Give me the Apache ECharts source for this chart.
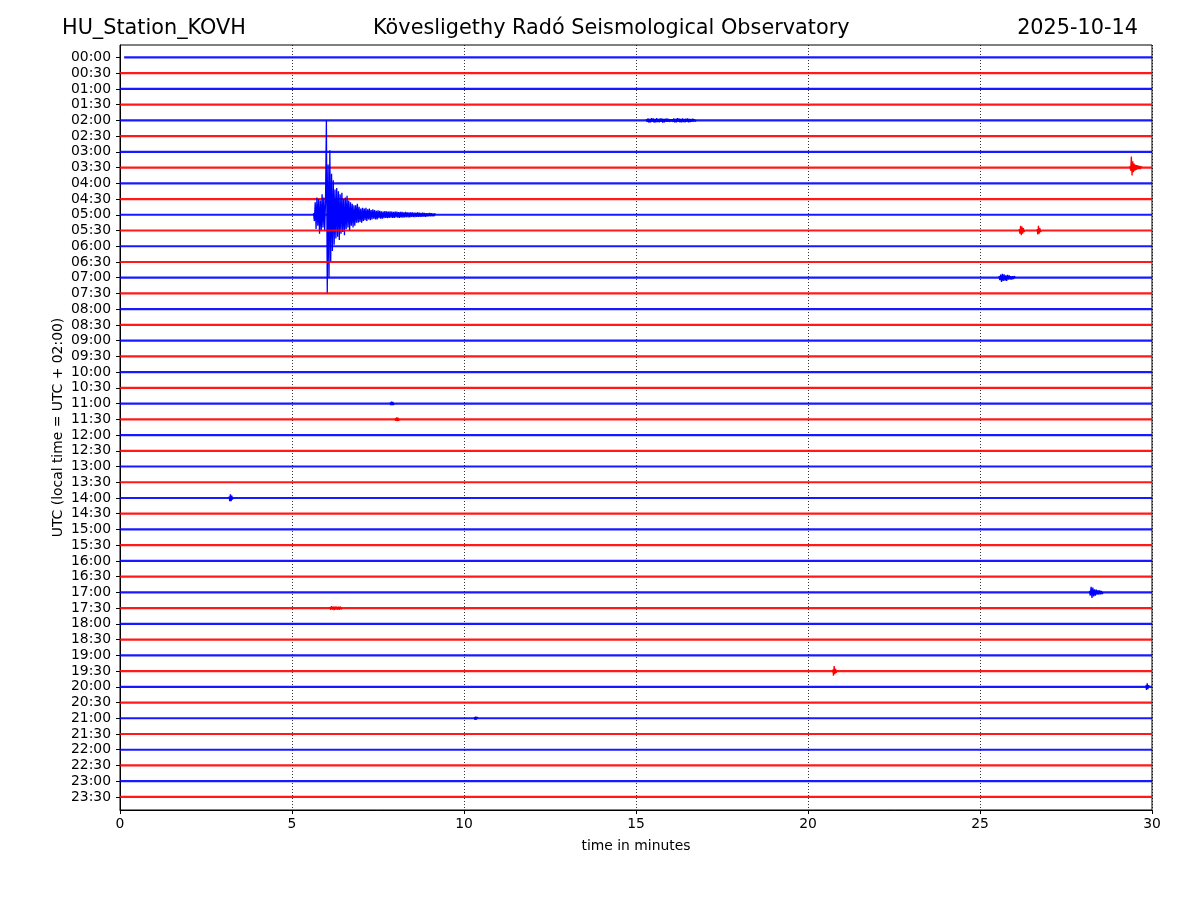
<!DOCTYPE html>
<html>
<head>
<meta charset="utf-8">
<script src="https://cdn.jsdelivr.net/npm/echarts@6/dist/echarts.min.js"></script>
<style>html,body{margin:0;padding:0;background:#fff}#c{width:1200px;height:900px}</style>
</head>
<body>
<div id="c"></div>
<script>
// ---- data ----
const timeLabels = ['00:00','00:30','01:00','01:30','02:00','02:30','03:00','03:30','04:00','04:30',
  '05:00','05:30','06:00','06:30','07:00','07:30','08:00','08:30','09:00','09:30',
  '10:00','10:30','11:00','11:30','12:00','12:30','13:00','13:30','14:00','14:30',
  '15:00','15:30','16:00','16:30','17:00','17:30','18:00','18:30','19:00','19:30',
  '20:00','20:30','21:00','21:30','22:00','22:30','23:00','23:30'];
const traceColors = ['#0000ff', '#ff0000'];   // even rows blue, half-hours red
const xTicks = [0, 5, 10, 15, 20, 25, 30];

// amplitudes in units of trace spacing (positive = upward)
const quake0500 = [0.1,-0.4,0.8,-0.9,1.1,-0.7,1.0,-1.2,0.9,-1.0,1.3,-0.8,1.1,-1.0,
  0.9,6.0,-5.0,3.2,-4.0,4.1,-3.0,2.6,-2.3,2.2,-1.9,1.6,-1.5,1.7,-1.4,1.5,-1.6,1.3,-1.2,
  1.4,-1.1,1.0,-1.3,1.1,-0.9,1.2,-0.8,0.9,-1.0,0.8,-0.7,0.7,-0.8,0.6,-0.7,0.6,-0.5,0.7,-0.5,
  0.5,-0.45,0.4,-0.5,0.45,-0.4,0.4,-0.35,0.45,-0.4,0.35,-0.3,0.4,-0.35,0.3,-0.3,0.35,-0.25,0.3,-0.3,
  0.25,-0.3,0.28,-0.22,0.25,-0.25,0.22,-0.25,0.2,-0.22,0.24,-0.2,0.22,-0.22,0.2,-0.2,0.22,-0.18,0.2,-0.2,
  0.18,-0.2,0.2,-0.17,0.2,-0.18,0.17,-0.2,0.18,-0.16,0.18,-0.18,0.16,-0.17,0.18,-0.15,0.16,-0.17,0.15,-0.16,
  0.15,-0.14,0.16,-0.15,0.14,-0.15,0.13,-0.14,0.15,-0.13,0.14,-0.13,0.12,-0.14,0.13,-0.12,0.12,-0.13,0.11,-0.12,
  0.11,-0.1,0.12,-0.1,0.1,-0.1,0.09,-0.1,0.08,0];
const spike0330 = [0.1,-0.2,0.7,-0.5,0.4,-0.3,0.25,-0.2,0.18,-0.15,0.15,-0.12,0.12,-0.1,0.1,-0.1,0.08,0];
const burst0530a = [0.1,-0.2,0.3,-0.3,0.25,-0.2,0.15,-0.1,0];
const burst0530b = [0.1,-0.25,0.3,-0.2,0.15,-0.1,0];
const burst0700 = [0.1,-0.15,0.2,-0.27,0.25,-0.2,0.22,-0.18,0.15,-0.2,0.18,-0.12,0.15,-0.12,0.1,-0.12,0.1,-0.08,0.1,0];
const burst0200 = [0.08,-0.1,0.12,-0.14,0.1,-0.12,0.14,-0.1,0.12,-0.14,0.1,-0.12,0.14,-0.11,0.1,-0.12,0.12,-0.1,
  0.12,-0.14,0.1,-0.12,0.11,-0.1,0.12,-0.1,0.09,-0.1,0.08,-0.07,0.08,-0.1,0.12,-0.13,0.1,-0.12,0.14,-0.1,0.12,-0.13,
  0.1,-0.12,0.13,-0.11,0.1,-0.12,0.11,-0.1,0.12,-0.12,0.1,-0.11,0.09,-0.1,0.1,-0.08,0.08,-0.07,0];
const spike1700 = [0.1,-0.2,0.35,-0.35,0.3,-0.25,0.2,-0.2,0.18,-0.15,0.15,-0.14,0.12,-0.12,0.1,-0.1,0];
const spike1930 = [0.1,-0.3,0.32,-0.2,0.15,-0.1,0];
const spike2000 = [0.1,-0.2,0.22,-0.15,0.1,0];
const spike1400 = [0.1,-0.2,0.23,-0.2,0.15,-0.1,0];
const burst1730 = [0.08,-0.1,0.12,-0.1,0.1,-0.12,0.11,-0.09,0.1,-0.1,0.09,-0.1,0.1,-0.08,0];
const burst1100 = [0.08,-0.1,0.12,-0.1,0.1,-0.09,0];
const burst1130 = [0.08,-0.1,0.12,-0.11,0.1,-0.09,0];
const burst2100 = [0.08,-0.1,0.1,-0.09,0.08,0];

// [trace label, start minute, step in minutes, amplitudes]
const events = [
  ['02:00', 15.3, 0.025, burst0200],
  ['03:30', 29.36, 0.02, spike0330],
  ['05:00', 5.625, 0.025, quake0500],
  ['05:30', 26.14, 0.02, burst0530a],
  ['05:30', 26.66, 0.02, burst0530b],
  ['07:00', 25.55, 0.025, burst0700],
  ['11:00', 7.85, 0.02, burst1100],
  ['11:30', 8.0, 0.02, burst1130],
  ['14:00', 3.17, 0.02, spike1400],
  ['17:00', 28.18, 0.025, spike1700],
  ['17:30', 6.1, 0.025, burst1730],
  ['19:30', 20.72, 0.02, spike1930],
  ['20:00', 29.82, 0.02, spike2000],
  ['21:00', 10.3, 0.02, burst2100]
];

// ---- chart ----
const series = [];
timeLabels.forEach((lab, idx) => {
  const color = traceColors[idx % 2];
  series.push({
    type: 'line', showSymbol: false, silent: true, animation: false,
    lineStyle: { color: color, width: 2.2, opacity: 0.9 },
    data: [[idx === 0 ? 0.12 : 0, idx], [30, idx]]
  });
  events.filter(e => e[0] === lab).forEach(e => {
    const [, start, step, vals] = e;
    series.push({
      type: 'line', showSymbol: false, silent: true, animation: false,
      lineStyle: { color: color, width: 1.3 },
      data: vals.map((v, i) => [start + step * i, idx - v])
    });
  });
});

const txt = { color: '#000', fontFamily: 'DejaVu Sans' };
const titleStyle = Object.assign({ fontSize: 20.8, fontWeight: 'normal' }, txt);
const chart = echarts.init(document.getElementById('c'), null, { renderer: 'canvas' });
chart.setOption({
  backgroundColor: '#fff',
  animation: false,
  textStyle: { fontFamily: 'DejaVu Sans' },
  title: [
    { text: 'HU_Station_KOVH', left: 62, top: 18, padding: 0, textStyle: titleStyle },
    { text: 'Kövesligethy Radó Seismological Observatory', left: 373, top: 18, padding: 0, textStyle: titleStyle },
    { text: '2025-10-14', right: 62, top: 18, padding: 0, textStyle: titleStyle }
  ],
  grid: { left: 120, right: 48, top: 45, bottom: 90, show: true, borderColor: '#000', borderWidth: 1, backgroundColor: 'transparent' },
  xAxis: {
    type: 'value', min: 0, max: 30, interval: 5,
    name: 'time in minutes', nameLocation: 'middle', nameGap: 29, nameMoveOverlap: false,
    nameTextStyle: Object.assign({ fontSize: 13.9 }, txt),
    axisLine: { show: true, onZero: false, lineStyle: { color: '#000', width: 1 } },
    axisTick: { show: true, length: 4, lineStyle: { color: '#000' } },
    axisLabel: Object.assign({ fontSize: 13.9, margin: 7, formatter: v => xTicks.includes(v) ? String(v) : '' }, txt),
    splitLine: { show: true, lineStyle: { color: '#000', width: 0.8, type: [1, 2] } }
  },
  yAxis: {
    type: 'value', inverse: true, min: -0.79, max: 47.83,
    name: 'UTC (local time = UTC + 02:00)', nameLocation: 'middle', nameGap: 55, nameRotate: 90, nameMoveOverlap: false,
    nameTextStyle: Object.assign({ fontSize: 13.9 }, txt),
    axisLine: { show: true, onZero: false, lineStyle: { color: '#000', width: 1 } },
    axisTick: { show: true, length: 4, lineStyle: { color: '#000' }, customValues: timeLabels.map((_, i) => i) },
    axisLabel: Object.assign({ fontSize: 13.9, margin: 9, customValues: timeLabels.map((_, i) => i),
      formatter: v => timeLabels[Math.round(v)] || '' }, txt),
    splitLine: { show: false }
  },
  series: series
});
</script>
</body>
</html>
